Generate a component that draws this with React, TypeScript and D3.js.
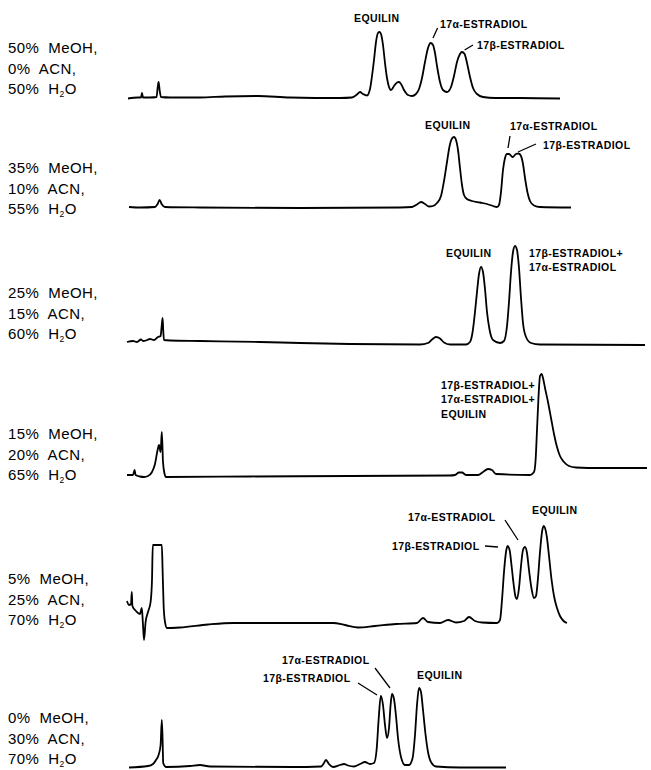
import * as d3 from 'd3';

// mobile phase composition of each run (top to bottom)
const meoh = [50, 35, 25, 15, 5, 0];
const acn = [0, 10, 15, 20, 25, 30];
const water = [50, 55, 60, 65, 70, 70];

// chromatograms: [retention time (min), detector response]
const run1: [number, number][] = [
  [0.05, -0.5], [0.55, 0.5], [0.7, 0.5], [0.75, 5], [0.8, 0.5], [1.15, 0.5], [1.48, 1], [1.53, 10],
  [1.58, 16], [1.63, 8], [1.7, 1], [2.15, 0.5], [3.65, 0.5], [4.9, 1.5], [6.55, 2], [8.15, 0.5],
  [10.65, 0], [11.25, 0.5], [11.5, 3.5], [11.65, 6], [11.8, 4], [12.0, 2.5], [12.15, 9], [12.25, 22],
  [12.35, 38], [12.45, 56], [12.55, 65], [12.63, 66], [12.7, 64], [12.8, 53], [12.9, 35], [13.0, 20],
  [13.1, 11], [13.2, 8], [13.35, 12], [13.5, 15.5], [13.6, 16], [13.7, 14], [13.85, 8], [14.05, 3],
  [14.25, 2], [14.45, 4], [14.6, 9], [14.75, 20], [14.9, 36], [15.05, 50], [15.18, 55], [15.3, 53],
  [15.4, 45], [15.5, 32], [15.65, 16], [15.8, 8], [16.0, 6], [16.2, 11], [16.35, 22], [16.5, 36],
  [16.65, 44], [16.75, 46], [16.88, 44], [17.0, 35], [17.15, 21], [17.3, 10], [17.5, 4], [17.8, 1],
  [18.4, 0], [19.65, 0], [21.65, -0.5],
];
const run2: [number, number][] = [
  [0.1, 0], [0.65, -0.5], [1.4, 0], [1.53, 3], [1.63, 7], [1.73, 3], [1.9, 0], [3.65, -0.5],
  [8.65, -1], [13.65, -0.5], [14.25, 0], [14.5, 2.5], [14.7, 5], [14.9, 3], [15.1, 0.5], [15.3, 1],
  [15.5, 4], [15.7, 11], [15.85, 26], [16.0, 45], [16.13, 61], [16.25, 68.5], [16.35, 70], [16.45, 67],
  [16.55, 57], [16.65, 39], [16.75, 22], [16.85, 12], [17.0, 8], [17.25, 6], [17.65, 4.5], [18.0, 3],
  [18.3, 1], [18.5, 0], [18.6, 2], [18.7, 15], [18.8, 37], [18.9, 49], [19.0, 53], [19.1, 53], [19.28, 50],
  [19.45, 53], [19.58, 53.5], [19.7, 51], [19.8, 43], [19.9, 29], [20.03, 14], [20.15, 6], [20.35, 1.5],
  [20.65, 0], [22.2, -0.5],
];
const run3: [number, number][] = [
  [0, 1], [0.3, 2], [0.5, 1], [0.7, 3.5], [0.8, 2], [0.95, 2.5], [1.15, 4], [1.35, 3], [1.55, 6],
  [1.68, 7], [1.73, 16], [1.78, 25], [1.81, 13], [1.85, 3], [2.15, 2.5], [3.65, 2], [6.65, 1],
  [8.65, 0], [11.15, -1], [14.65, -1.5], [15.05, 0], [15.25, 3.5], [15.45, 6], [15.65, 4.5],
  [15.85, 0.5], [16.15, -1.5], [16.95, -1.5], [17.15, 1], [17.28, 11], [17.4, 31], [17.5, 51],
  [17.6, 69], [17.7, 76], [17.8, 71], [17.9, 54], [18.0, 31], [18.13, 13], [18.3, 3], [18.65, 0],
  [18.85, 2], [19.0, 17], [19.1, 41], [19.2, 71], [19.3, 91], [19.4, 97], [19.5, 93], [19.6, 75],
  [19.7, 45], [19.8, 20], [19.95, 6], [20.2, 0], [20.65, -1.5], [25.9, -2],
];
const run4: [number, number][] = [
  [0, 1], [0.3, 1], [0.38, 6], [0.43, 1], [0.65, -0.5], [0.85, -1], [1.05, 0], [1.25, 4], [1.4, 12],
  [1.53, 26], [1.6, 31], [1.68, 24], [1.74, 44], [1.8, 14], [1.88, 2], [1.95, -1], [6.15, -0.5],
  [11.15, 0], [16.15, 0.5], [16.4, 1], [16.6, 3.5], [16.75, 3.5], [16.95, 1], [17.55, 1], [17.8, 4],
  [18.05, 7], [18.25, 6], [18.45, 2], [20.15, 1], [20.35, 4], [20.43, 16], [20.5, 46], [20.58, 81],
  [20.65, 100], [20.73, 102], [20.8, 98], [20.9, 88], [21.05, 74], [21.2, 58], [21.35, 42],
  [21.5, 29], [21.65, 20], [21.85, 14], [22.1, 10], [22.45, 8.5], [23.65, 8], [26.0, 8],
];
const run5: [number, number][] = [
  [0, 24], [0.1, 20], [0.2, 21], [0.24, 33], [0.27, 19], [0.45, 14], [0.65, 11], [0.74, 17], [0.8, 0],
  [0.85, -15], [0.93, 3], [1.05, 13], [1.18, 23], [1.25, 45], [1.29, 80], [1.74, 80], [1.78, 55],
  [1.83, 20], [1.9, 3], [2.0, -3], [2.65, -2.5], [4.05, 0.5], [5.3, 2], [10.3, 2], [10.9, 0],
  [11.55, -2.5], [12.4, -1], [13.45, 1], [14.5, 2], [14.8, 7], [15.05, 3], [15.65, 2], [16.05, 5],
  [16.45, 2.5], [16.85, 4], [17.1, 8], [17.4, 4], [17.75, 2.5], [18.5, 2], [18.65, 5], [18.75, 25],
  [18.85, 53], [18.95, 73], [19.03, 79], [19.13, 75], [19.23, 59], [19.33, 41], [19.43, 28],
  [19.5, 26], [19.6, 37], [19.7, 59], [19.8, 75], [19.9, 78], [20.0, 72], [20.1, 55], [20.23, 36],
  [20.35, 27], [20.45, 29], [20.55, 47], [20.65, 73], [20.75, 93], [20.83, 99], [20.9, 97],
  [21.0, 87], [21.1, 69], [21.23, 45], [21.35, 29], [21.5, 17], [21.65, 9], [21.83, 4], [22.0, 2],
];
const run6: [number, number][] = [
  [0.1, -0.5], [1.05, 1], [1.3, 3], [1.45, 7], [1.58, 12], [1.68, 22], [1.74, 47], [1.78, 27],
  [1.81, 4], [1.95, 0], [3.15, 1], [3.65, 2], [4.15, 0.5], [8.25, 0], [9.7, 0.5], [9.85, 4],
  [9.95, 7], [10.1, 3], [10.3, 0], [10.65, 2], [10.85, 3], [11.05, 1.5], [11.35, 0.5], [11.65, 3],
  [11.9, 5], [12.15, 3], [12.35, 4], [12.48, 17], [12.58, 47], [12.69, 71], [12.8, 62], [12.9, 42],
  [13.0, 29], [13.1, 39], [13.18, 62], [13.25, 73], [13.35, 68], [13.45, 51], [13.55, 29],
  [13.7, 10], [13.9, 2], [14.1, 2], [14.28, 9], [14.4, 32], [14.5, 62], [14.6, 79], [14.7, 75],
  [14.8, 57], [14.93, 32], [15.05, 15], [15.2, 5], [15.45, 0.5], [16.65, -0.5], [18.95, -0.5],
];
const runs = [run1, run2, run3, run4, run5, run6];

// peak names: panel, position (time, response) of the label, text lines
const peakLabels = [
  { panel: 0, t: 11.35, v: 80, lines: ['EQUILIN'] },
  { panel: 0, t: 15.65, v: 74, lines: ['17α-ESTRADIOL'] },
  { panel: 0, t: 17.5, v: 53, lines: ['17β-ESTRADIOL'] },
  { panel: 1, t: 14.9, v: 82, lines: ['EQUILIN'] },
  { panel: 1, t: 19.15, v: 81, lines: ['17α-ESTRADIOL'] },
  { panel: 1, t: 20.8, v: 62, lines: ['17β-ESTRADIOL'] },
  { panel: 2, t: 15.95, v: 90, lines: ['EQUILIN'] },
  { panel: 2, t: 20.1, v: 90, lines: ['17β-ESTRADIOL+', '17α-ESTRADIOL'] },
  { panel: 3, t: 15.7, v: 91, lines: ['17β-ESTRADIOL+', '17α-ESTRADIOL+', 'EQUILIN'] },
  { panel: 4, t: 14.05, v: 108, lines: ['17α-ESTRADIOL'] },
  { panel: 4, t: 20.25, v: 115, lines: ['EQUILIN'] },
  { panel: 4, t: 13.25, v: 79, lines: ['17β-ESTRADIOL'] },
  { panel: 5, t: 7.75, v: 107, lines: ['17α-ESTRADIOL'] },
  { panel: 5, t: 6.8, v: 89, lines: ['17β-ESTRADIOL'] },
  { panel: 5, t: 14.5, v: 92, lines: ['EQUILIN'] },
];

// leader lines from label to peak: panel, t1, v1, t2, v2
const leaders: [number, number, number, number, number][] = [
  [0, 15.3, 60, 15.53, 70],
  [0, 16.88, 48, 17.3, 53],
  [1, 19.15, 71, 19.05, 59],
  [1, 19.55, 55, 20.45, 63],
  [4, 18.9, 105, 19.55, 85],
  [4, 17.9, 79, 18.55, 78],
  [5, 12.4, 99, 13.15, 79],
  [5, 11.55, 84, 12.5, 72],
];

const width = 651;
const height = 770;
const baselines = [98, 207, 343, 476, 625, 767];
const compTop = [53, 173, 298, 439, 584, 723];
const font = '"Liberation Sans", Arial, Helvetica, sans-serif';

const App = () => {
  const x = d3.scaleLinear().domain([0, 26.2]).range([127, 651]);
  const yScales = baselines.map(b => d3.scaleLinear().domain([0, 100]).range([b, b - 100]));

  return (
    <svg
      width={width}
      height={height}
      style={{ position: 'absolute', left: 0, top: 0, background: '#fff' }}
    >
      {runs.map((run, i) => {
        const y = yScales[i];
        const line = d3.line<[number, number]>()
          .x(d => x(d[0]))
          .y(d => y(d[1]))
          .curve(d3.curveMonotoneX);
        return (
          <path key={'run' + i} d={line(run) || ''} fill="none" stroke="#000"
            strokeWidth={1.8} strokeLinejoin="round" />
        );
      })}

      {meoh.map((m, i) => (
        <text key={'comp' + i} fontFamily={font} fontSize={15} letterSpacing={0.4}
          style={{ whiteSpace: 'pre' }} fill="#000">
          <tspan x={8} y={compTop[i]}>{`${m}%  MeOH,`}</tspan>
          <tspan x={8} y={compTop[i] + 20.5}>{`${acn[i]}%  ACN,`}</tspan>
          <tspan x={8} y={compTop[i] + 41}>{`${water[i]}%  H`}</tspan>
          <tspan fontSize={8.5} dy={2.5}>2</tspan>
          <tspan dy={-2.5}>O</tspan>
        </text>
      ))}

      {peakLabels.map((p, i) => (
        <text key={'pl' + i} fontFamily={font} fontSize={10.5} fontWeight="bold"
          letterSpacing={0.4} fill="#000">
          {p.lines.map((l, j) => (
            <tspan key={j} x={x(p.t)} y={yScales[p.panel](p.v) + 3.7 + j * 14.5}>{l}</tspan>
          ))}
        </text>
      ))}

      {leaders.map((l, i) => (
        <line key={'ld' + i}
          x1={x(l[1])} y1={yScales[l[0]](l[2])}
          x2={x(l[3])} y2={yScales[l[0]](l[4])}
          stroke="#000" strokeWidth={1.3} />
      ))}
    </svg>
  );
};

export default App;
